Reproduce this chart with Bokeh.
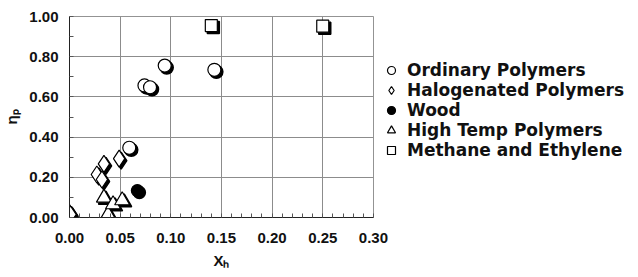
from bokeh.plotting import figure
from bokeh.models import (ColumnDataSource, Legend, LegendItem, Range1d,
                          SingleIntervalTicker, NumeralTickFormatter)
from bokeh.transform import dodge
from bokeh.embed import file_html
from bokeh.resources import INLINE

# ---- data ----
ordinary_x = [0.059, 0.074, 0.0795, 0.094, 0.143]
ordinary_y = [0.347, 0.657, 0.648, 0.756, 0.735]
halogen_x = [0.000, 0.001, 0.027, 0.032, 0.034, 0.049]
halogen_y = [0.022, 0.015, 0.214, 0.189, 0.267, 0.293]
wood_x = [0.067]
wood_y = [0.134]
hightemp_x = [0.034, 0.038, 0.043, 0.052]
hightemp_y = [0.098, 0.015, 0.065, 0.085]
methane_x = [0.140, 0.250]
methane_y = [0.955, 0.952]

series_names = ["Ordinary Polymers", "Halogenated Polymers", "Wood",
                "High Temp Polymers", "Methane and Ethylene"]
x_title = "X\u2095"
y_title = "\u03b7\u209a"

FONT = "Liberation Sans"
LFONT = "DejaVu Sans"
FW, FH = 304, 201
X0, X1, Y0, Y1 = 0.0, 0.3001, 0.0, 1.0001

p = figure(frame_width=FW, frame_height=FH, output_backend="svg", toolbar_location=None,
           x_range=Range1d(X0, X1), y_range=Range1d(Y0, Y1),
           min_border_left=60, min_border_right=0, min_border_top=16,
           min_border_bottom=45)
p.background_fill_color = "white"
p.border_fill_color = "white"
p.outline_line_color = "#9a9a9a"
p.outline_line_width = 1

p.xaxis.ticker = SingleIntervalTicker(interval=0.05, num_minor_ticks=5)
p.yaxis.ticker = SingleIntervalTicker(interval=0.2, num_minor_ticks=2)
for ax in (p.xaxis[0], p.yaxis[0]):
    ax.formatter = NumeralTickFormatter(format="0.00")
    ax.major_label_text_font = FONT
    ax.major_label_text_font_style = "bold"
    ax.major_label_text_font_size = "15px"
    ax.major_label_text_color = "#111111"
    ax.axis_line_color = "#222222"
    ax.major_tick_line_color = "#222222"
    ax.major_tick_in = 0
    ax.major_tick_out = 0
    ax.minor_tick_line_color = "#555555"
    ax.minor_tick_in = 4
    ax.minor_tick_out = 0
    ax.axis_label_text_font = FONT
    ax.axis_label_text_font_style = "bold"
    ax.axis_label_text_font_size = "15px"
    ax.axis_label_text_color = "#111111"
p.xaxis.major_label_standoff = 15
p.yaxis.major_label_standoff = 11
p.xaxis.axis_label = x_title
p.yaxis.axis_label = y_title
p.xaxis.axis_label_standoff = 6
p.yaxis.axis_label_standoff = 6

p.xgrid.ticker = p.xaxis[0].ticker
p.ygrid.ticker = p.yaxis[0].ticker
p.grid.grid_line_color = "#8c8c8c"
p.grid.grid_line_width = 1

dx = 2.0 * (X1 - X0) / FW
dy = -2.0 * (Y1 - Y0) / FH

def add_series(xs, ys, marker, size, fill):
    src = ColumnDataSource(dict(x=xs, y=ys))
    p.scatter(x=dodge("x", dx, range=p.x_range), y=dodge("y", dy, range=p.y_range),
              source=src, marker=marker, size=size, fill_color="black",
              line_color="black", line_width=1.5)
    r = p.scatter(x="x", y="y", source=src, marker=marker, size=size,
                  fill_color=fill, line_color="black", line_width=1.2)
    return r

r1 = add_series(ordinary_x, ordinary_y, "circle", 13, "white")
r2 = add_series(halogen_x, halogen_y, "diamond", 17, "white")
r3 = add_series(wood_x, wood_y, "circle", 12, "black")
r4 = add_series(hightemp_x, hightemp_y, "triangle", 15, "white")
r5 = add_series(methane_x, methane_y, "square", 12, "white")

legend = Legend(items=[LegendItem(label=n, renderers=[r]) for n, r in
                       zip(series_names, [r1, r2, r3, r4, r5])],
                location=(8, 57), orientation="vertical",
                glyph_width=20, glyph_height=20, label_height=20, spacing=0,
                padding=0, margin=0, label_standoff=6,
                border_line_alpha=0, background_fill_alpha=0,
                label_text_font=LFONT, label_text_font_style="bold",
                label_text_font_size="17px", label_text_color="#111111")
p.add_layout(legend, "right")

open("out.html", "w").write(file_html(p, INLINE))
